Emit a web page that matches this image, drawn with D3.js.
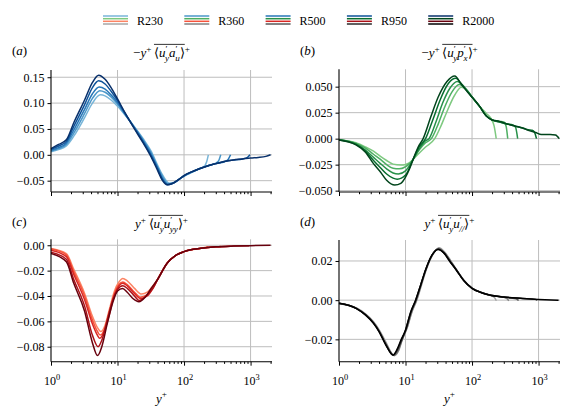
<!DOCTYPE html>
<html><head><meta charset="utf-8">
<script src="https://cdn.jsdelivr.net/npm/d3@7"></script>
<style>body{margin:0;background:#fff}</style>
</head><body><svg id="c" width="572" height="420"></svg>
<script>
// ---------------- DATA ----------------
const cases = ["R230", "R360", "R500", "R950", "R2000"];

// panel (a): -y+ <u'_y a'_u>+
const a_R230 = [[1,0.006],[1.3,0.010],[1.7,0.017],[2.2,0.036],[3.2,0.072],[4.2,0.100],[5.5,0.116],[6.5,0.114],[8,0.106],[10,0.094],[13,0.077],[17.8,0.055],[24,0.032],[32,0.007],[40,-0.020],[48,-0.040],[60,-0.055],[70,-0.054],[85,-0.047],[100,-0.041],[130,-0.034],[170,-0.027],[205,-0.021],[218,-0.014],[232,0.0]];
const a_R360 = [[1,0.0075],[1.3,0.012],[1.7,0.020],[2.2,0.042],[3.2,0.080],[4.2,0.109],[5.4,0.124],[6.5,0.121],[8,0.112],[10,0.098],[13,0.078],[17.8,0.054],[24,0.030],[32,0.004],[40,-0.023],[48,-0.043],[58,-0.056],[68,-0.055],[85,-0.047],[100,-0.041],[130,-0.034],[170,-0.027],[230,-0.021],[290,-0.017],[330,-0.012],[356,0.0]];
const a_R500 = [[1,0.009],[1.3,0.014],[1.7,0.023],[2.2,0.048],[3.2,0.088],[4.2,0.118],[5.3,0.131],[6.5,0.127],[8,0.116],[10,0.101],[13,0.079],[17.8,0.053],[24,0.028],[32,0.001],[40,-0.025],[47,-0.045],[58,-0.057],[67,-0.055],[85,-0.047],[100,-0.041],[130,-0.033],[170,-0.027],[230,-0.021],[300,-0.017],[400,-0.014],[460,-0.009],[500,0.0]];
const a_R950 = [[1,0.0105],[1.3,0.017],[1.7,0.026],[2.2,0.055],[3.2,0.097],[4.2,0.130],[5.2,0.143],[6.5,0.137],[8,0.123],[10,0.105],[13,0.080],[17.8,0.052],[24,0.026],[32,-0.002],[40,-0.027],[47,-0.047],[57,-0.058],[66,-0.056],[85,-0.047],[100,-0.040],[130,-0.033],[170,-0.027],[230,-0.021],[300,-0.017],[400,-0.013],[550,-0.010],[750,-0.008],[900,-0.005],[980,0.0]];
const a_R2000 = [[1,0.012],[1.3,0.020],[1.7,0.029],[2.2,0.062],[3.2,0.106],[4.2,0.140],[5.2,0.154],[6.5,0.146],[8,0.130],[10,0.108],[13,0.081],[17.8,0.051],[24,0.024],[32,-0.004],[40,-0.030],[47,-0.049],[56,-0.058],[65,-0.056],[85,-0.047],[100,-0.040],[130,-0.033],[170,-0.027],[230,-0.021],[300,-0.017],[400,-0.013],[550,-0.010],[750,-0.008],[1000,-0.006],[1300,-0.005],[1700,-0.003],[2000,0.0]];

// panel (b): -y+ <u'_y p'_x>+
const b_R230 = [[1,-0.001],[1.8,-0.004],[2.5,-0.008],[3.3,-0.012],[4.2,-0.017],[5.2,-0.021],[6.5,-0.0245],[8.5,-0.0253],[10,-0.0248],[11.5,-0.023],[13,-0.020],[16,-0.014],[20,-0.008],[27.5,0.0],[34,0.012],[41,0.0245],[55,0.042],[69,0.0494],[85,0.046],[103,0.039],[130,0.031],[163,0.0244],[195,0.019],[215,0.012],[231,0.0]];
const b_R360 = [[1,-0.001],[1.8,-0.0045],[2.5,-0.009],[3.3,-0.015],[4.2,-0.020],[5.2,-0.025],[6.5,-0.0285],[8,-0.029],[10,-0.027],[11.5,-0.024],[13,-0.020],[16,-0.011],[20,-0.004],[24.5,0.0],[31,0.014],[38,0.029],[50,0.045],[64,0.052],[80,0.048],[103,0.039],[130,0.031],[163,0.022],[200,0.018],[260,0.0166],[300,0.016],[325,0.012],[344,0.0]];
const b_R500 = [[1,-0.001],[1.8,-0.005],[2.5,-0.011],[3.3,-0.018],[4.2,-0.024],[5.2,-0.029],[6.5,-0.033],[7.8,-0.034],[10,-0.031],[11.5,-0.026],[13,-0.020],[16,-0.010],[20,-0.002],[22.5,0.0],[29,0.017],[36,0.034],[47,0.049],[60,0.055],[76,0.050],[103,0.039],[130,0.031],[163,0.022],[200,0.018],[260,0.016],[340,0.014],[405,0.0135],[450,0.011],[485,0.0]];
const b_R950 = [[1,-0.0012],[1.8,-0.0055],[2.5,-0.012],[3.3,-0.021],[4.2,-0.028],[5.2,-0.034],[6.5,-0.038],[7.5,-0.039],[10,-0.035],[11.5,-0.028],[13,-0.020],[16,-0.008],[20,0.0],[26,0.019],[33,0.037],[44,0.053],[57,0.058],[72,0.051],[103,0.039],[130,0.031],[163,0.022],[200,0.018],[260,0.016],[340,0.014],[450,0.012],[575,0.0103],[700,0.0085],[800,0.008],[870,0.006],[930,0.0]];
const b_R2000 = [[1,-0.0013],[1.8,-0.006],[2.5,-0.013],[3.3,-0.024],[4.2,-0.032],[5.2,-0.040],[6.9,-0.0446],[8.5,-0.043],[10,-0.037],[11.5,-0.029],[13,-0.020],[15.5,-0.008],[18.4,0.0],[24,0.021],[31,0.040],[42,0.055],[55,0.0602],[68,0.053],[85,0.045],[103,0.039],[130,0.031],[163,0.022],[200,0.018],[260,0.0166],[340,0.014],[450,0.012],[575,0.0103],[700,0.008],[900,0.006],[1100,0.004],[1500,0.004],[1800,0.0035],[2045,0.0]];

// panel (c): y+ <u'_y u'_yy>+
const c_R230 = [[1,-0.0025],[1.7,-0.0065],[2.2,-0.019],[3.2,-0.038],[4.2,-0.056],[5.0,-0.065],[5.6,-0.068],[6.5,-0.063],[7.5,-0.051],[9,-0.036],[10.5,-0.029],[12,-0.0262],[14,-0.028],[18,-0.034],[23,-0.0385],[28,-0.037],[34,-0.032],[40,-0.027],[56,-0.014],[75,-0.008],[100,-0.005],[180,-0.0024],[230,-0.0012]];
const c_R360 = [[1,-0.003],[1.7,-0.0075],[2.2,-0.021],[3.2,-0.040],[4.2,-0.059],[5.0,-0.068],[5.5,-0.0708],[6.5,-0.065],[7.5,-0.053],[9,-0.038],[10.5,-0.031],[12,-0.029],[14,-0.031],[18,-0.037],[22,-0.041],[28,-0.039],[34,-0.033],[40,-0.027],[56,-0.014],[75,-0.008],[100,-0.005],[180,-0.0024],[300,-0.0013],[360,-0.0009]];
const c_R500 = [[1,-0.004],[1.7,-0.009],[2.2,-0.023],[3.2,-0.043],[4.2,-0.062],[5.0,-0.071],[5.4,-0.0734],[6.5,-0.066],[7.5,-0.055],[9,-0.039],[10.5,-0.032],[12,-0.030],[14,-0.032],[18,-0.038],[22,-0.042],[28,-0.040],[34,-0.034],[40,-0.027],[56,-0.014],[75,-0.008],[100,-0.005],[180,-0.0024],[300,-0.0012],[500,-0.0007]];
const c_R950 = [[1,-0.0055],[1.7,-0.011],[2.2,-0.027],[3.2,-0.048],[4.2,-0.071],[5.1,-0.080],[5.8,-0.075],[7,-0.059],[8.5,-0.043],[10,-0.035],[12,-0.032],[14,-0.034],[18,-0.040],[21,-0.0435],[27,-0.040],[34,-0.034],[40,-0.027],[56,-0.014],[75,-0.008],[100,-0.005],[180,-0.0024],[300,-0.0012],[560,-0.0006],[950,-0.0003]];
const c_R2000 = [[1,-0.0065],[1.7,-0.013],[2.2,-0.030],[3.2,-0.052],[4.2,-0.077],[5.0,-0.087],[5.8,-0.080],[7,-0.062],[8.5,-0.045],[10,-0.036],[11.9,-0.034],[14,-0.037],[17,-0.042],[21,-0.0445],[26,-0.041],[32,-0.034],[40,-0.027],[56,-0.014],[75,-0.008],[100,-0.005],[180,-0.0024],[300,-0.0012],[560,-0.0006],[1000,-0.0003],[2000,0.0]];

// panel (d): y+ <u'_y u'_//>+
const d_R230 = [[1,-0.0018],[1.84,-0.004],[2.5,-0.007],[3.3,-0.011],[4,-0.015],[5,-0.021],[6.8,-0.0283],[7.8,-0.026],[9,-0.020],[10.5,-0.0145],[12.5,-0.006],[14.8,0.0],[17.5,0.008],[20.5,0.0155],[26,0.0235],[32,0.0268],[39,0.0245],[47,0.0205],[58,0.0157],[75,0.0103],[100,0.0062],[140,0.0039],[183,0.0026],[215,0.0015],[232,-0.0003]];
const d_R360 = [[1,-0.0017],[1.84,-0.0042],[2.5,-0.0072],[3.3,-0.0113],[4,-0.0155],[5,-0.0217],[6.7,-0.0282],[7.7,-0.0262],[9,-0.0195],[10.5,-0.0142],[12.4,-0.006],[14.6,0.0],[17.3,0.008],[20.3,0.0155],[25.5,0.0233],[31.5,0.0265],[38.5,0.0243],[47,0.0203],[58,0.0156],[75,0.0102],[100,0.0061],[140,0.0038],[183,0.0026],[300,0.0015],[340,0.0006],[356,-0.0003]];
const d_R500 = [[1,-0.0016],[1.84,-0.0043],[2.5,-0.0074],[3.3,-0.0116],[4,-0.0158],[5,-0.0221],[6.6,-0.0281],[7.6,-0.0258],[8.8,-0.0205],[10.2,-0.015],[12.2,-0.006],[14.4,0.0],[17.1,0.008],[20.1,0.0154],[25.2,0.0231],[31.2,0.0262],[38,0.0241],[46,0.0202],[58,0.0155],[75,0.0101],[100,0.0061],[140,0.0038],[183,0.0026],[300,0.0015],[460,0.0007],[500,-0.0002]];
const d_R950 = [[1,-0.0016],[1.84,-0.0043],[2.5,-0.0075],[3.3,-0.0117],[4,-0.0159],[5,-0.0223],[6.5,-0.028],[7.5,-0.0252],[8.6,-0.0208],[10,-0.0152],[12,-0.006],[14.2,0.0],[17,0.008],[20,0.0154],[25,0.023],[31,0.026],[38,0.024],[46,0.020],[58,0.0154],[75,0.010],[100,0.006],[140,0.0038],[183,0.0026],[300,0.0016],[580,0.0009],[900,0.0004],[950,0.0]];
const d_R2000 = [[1,-0.0016],[1.84,-0.0043],[2.5,-0.0075],[3.3,-0.0118],[4,-0.016],[5,-0.0225],[6.5,-0.028],[7.5,-0.025],[8.5,-0.0205],[10,-0.0153],[12,-0.006],[14.2,0.0],[17,0.008],[20,0.0154],[25,0.023],[30.9,0.0259],[38,0.024],[46,0.020],[58,0.0154],[75,0.010],[100,0.0060],[140,0.0038],[183,0.0026],[300,0.0016],[580,0.0009],[1000,0.0004],[2000,-0.0001]];

// axis ticks
const xMajorTicks = [1, 10, 100, 1000];
const xTickExponents = ["0", "1", "2", "3"];
const yTicksA = [-0.05, 0.00, 0.05, 0.10, 0.15];
const yTicksB = [-0.050, -0.025, 0.000, 0.025, 0.050];
const yTicksC = [-0.08, -0.06, -0.04, -0.02, 0.00];
const yTicksD = [-0.02, 0.00, 0.02];

// ---------------- DRAW ----------------
const svg = d3.select("#c");
const FONT = "'Liberation Serif','Times New Roman',serif";

function mathText(g, x, y, segs, fs, anchor) {
  const t = g.append("text").attr("x", x).attr("y", y)
    .attr("text-anchor", anchor || "middle")
    .style("font-family", FONT).style("font-size", fs + "px").attr("fill", "#000");
  let cur = 0, idx = 0; const ov = [null, null];
  segs.forEach(s => {
    const txt = s[0], st = s[1] || "n", opt = s[2] || {};
    let off = 0, size = fs, ital = false;
    if (st === "i") ital = true;
    if (st === "sup") { off = -0.42 * fs; size = 0.7 * fs; }
    if (st === "sub" || st === "subi") { off = 0.28 * fs; size = 0.7 * fs; ital = st === "subi"; }
    const ts = t.append("tspan").text(txt).attr("dy", off - cur)
      .style("font-size", size + "px").style("font-style", ital ? "italic" : "normal");
    if (opt.dx) ts.attr("dx", opt.dx);
    if (opt.ovS) ov[0] = idx;
    if (opt.ovE) ov[1] = idx;
    cur = off; idx += txt.length;
  });
  if (ov[0] !== null) {
    const n = t.node();
    const xs = n.getStartPositionOfChar(ov[0]).x, xe = n.getEndPositionOfChar(ov[1]).x;
    g.append("line").attr("x1", xs).attr("x2", xe)
      .attr("y1", y - fs * 0.97).attr("y2", y - fs * 0.97)
      .attr("stroke", "#000").attr("stroke-width", 0.8);
  }
  return t;
}

const shadesCol = [0.47, 0.6, 0.73, 0.87, 1.0];
const shadesRed = [0.42, 0.56, 0.7, 0.85, 1.0];
const shadesGrey = [0.45, 0.58, 0.72, 0.86, 1.0];

const panels = [
  { lab: "a", x0: 51, x1: 272, y0: 70, y1: 192, dom: [-0.0719, 0.164], ticks: yTicksA, fmt: ".2f",
    data: [a_R230, a_R360, a_R500, a_R950, a_R2000], cmap: d3.interpolateBlues, sh: shadesCol, xlab: false, ty: 57,
    title: [["−"], ["y", "i"], ["+", "sup"], ["\u2009"], ["⟨", "n", { ovS: 1 }], ["u", "i"], ["′", "sup"], ["y", "subi", { dx: -2.4 }], ["a", "i"], ["′", "sup"], ["u", "subi", { dx: -2.4 }], ["⟩", "n", { ovE: 1 }], ["+", "sup"]] },
  { lab: "b", x0: 339, x1: 560, y0: 69.3, y1: 192, dom: [-0.0513, 0.0667], ticks: yTicksB, fmt: ".3f",
    data: [b_R230, b_R360, b_R500, b_R950, b_R2000], cmap: d3.interpolateGreens, sh: shadesCol, xlab: false, ty: 57,
    title: [["−"], ["y", "i"], ["+", "sup"], ["\u2009"], ["⟨", "n", { ovS: 1 }], ["u", "i"], ["′", "sup"], ["y", "subi", { dx: -2.4 }], ["p", "i"], ["′", "sup"], ["x", "subi", { dx: -2.4 }], ["⟩", "n", { ovE: 1 }], ["+", "sup"]] },
  { lab: "c", x0: 51, x1: 272, y0: 239.3, y1: 361.7, dom: [-0.0918, 0.0047], ticks: yTicksC, fmt: ".2f",
    data: [c_R230, c_R360, c_R500, c_R950, c_R2000], cmap: d3.interpolateReds, sh: shadesRed, xlab: true, ty: 228,
    title: [["y", "i"], ["+", "sup"], ["\u2009"], ["⟨", "n", { ovS: 1 }], ["u", "i"], ["′", "sup"], ["y", "subi", { dx: -2.4 }], ["u", "i"], ["′", "sup"], ["yy", "subi", { dx: -2.4 }], ["⟩", "n", { ovE: 1 }], ["+", "sup"]] },
  { lab: "d", x0: 339, x1: 560, y0: 240, y1: 361.7, dom: [-0.0314, 0.0307], ticks: yTicksD, fmt: ".2f",
    data: [d_R230, d_R360, d_R500, d_R950, d_R2000], cmap: d3.interpolateGreys, sh: shadesGrey, xlab: true, ty: 228,
    title: [["y", "i"], ["+", "sup"], ["\u2009"], ["⟨", "n", { ovS: 1 }], ["u", "i"], ["′", "sup"], ["y", "subi", { dx: -2.4 }], ["u", "i"], ["′", "sup"], ["//", "subi", { dx: -2.4 }], ["⟩", "n", { ovE: 1 }], ["+", "sup"]] }
];

const minorTicks = [];
for (let e = 0; e < 4; e++) for (let m = 2; m <= 9; m++) { const v = m * Math.pow(10, e); if (v <= 2100) minorTicks.push(v); }

panels.forEach(p => {
  const g = svg.append("g");
  const x = d3.scaleLog().domain([1, 2100]).range([p.x0, p.x1]);
  const y = d3.scaleLinear().domain(p.dom).range([p.y1, p.y0]);
  const fmt = v => d3.format(p.fmt)(v).replace("-", "−");

  // grid
  g.append("g").selectAll("line").data(p.ticks).join("line")
    .attr("x1", p.x0).attr("x2", p.x1).attr("y1", d => y(d)).attr("y2", d => y(d))
    .attr("stroke", "#bdbdbd").attr("stroke-width", 1);
  g.append("g").selectAll("line").data(xMajorTicks.slice(1)).join("line")
    .attr("x1", d => x(d)).attr("x2", d => x(d)).attr("y1", p.y0).attr("y2", p.y1)
    .attr("stroke", "#bdbdbd").attr("stroke-width", 1);

  // lines
  const line = d3.line().x(d => x(d[0])).y(d => y(d[1])).curve(d3.curveMonotoneX);
  p.data.forEach((ser, i) => {
    g.append("path").datum(ser).attr("d", line).attr("fill", "none")
      .attr("stroke", p.cmap(p.sh[i])).attr("stroke-width", 1.5).attr("stroke-linejoin", "round");
  });

  // y axis
  const ya = d3.axisLeft(y).tickValues(p.ticks).tickSize(3.5).tickPadding(3).tickFormat(fmt);
  const yg = g.append("g").attr("transform", `translate(${p.x0},0)`).call(ya);
  yg.select(".domain").attr("d", `M0,${p.y0}V${p.y1}`).attr("stroke", "#000").attr("stroke-width", 1.1);
  yg.selectAll("text").style("font-family", FONT).style("font-size", "12px").attr("fill", "#000");

  // x axis
  const xa = d3.axisBottom(x).tickValues(xMajorTicks).tickSize(4).tickFormat("");
  const xg = g.append("g").attr("transform", `translate(0,${p.y1})`).call(xa);
  xg.select(".domain").attr("d", `M${p.x0},0H${p.x1}`).attr("stroke", "#000").attr("stroke-width", 1.1);
  const xm = d3.axisBottom(x).tickValues(minorTicks).tickSize(2.2).tickFormat("");
  const xmg = g.append("g").attr("transform", `translate(0,${p.y1})`).call(xm);
  xmg.select(".domain").remove();
  if (p.xlab) {
    xMajorTicks.forEach((t, i) => {
      mathText(g, x(t) + 1, p.y1 + 23.5, [["10"], [xTickExponents[i], "sup"]], 12, "middle");
    });
    mathText(g, (p.x0 + p.x1) / 2, p.y1 + 41, [["y", "i"], ["+", "sup"]], 13, "middle");
  }

  // titles
  mathText(g, (p.x0 + p.x1) / 2, p.ty, p.title, 13, "middle");
  mathText(g, p.x0 - 39, p.ty - 2, [["("], [p.lab, "i"], [")"]], 13, "start");
});

// legend
const legColors = [d3.interpolateBlues, d3.interpolateGreens, d3.interpolateReds, d3.interpolateGreys];
const legShades = [shadesCol, shadesCol, shadesRed, shadesGrey];
const legY = [16, 18.7, 21.3, 24];
cases.forEach((c, i) => {
  const lx = 103 + i * 81.3;
  legColors.forEach((cm, j) => {
    svg.append("line").attr("x1", lx).attr("x2", lx + 25).attr("y1", legY[j]).attr("y2", legY[j])
      .attr("stroke", cm(legShades[j][i])).attr("stroke-width", 1.5);
  });
  svg.append("text").attr("x", lx + 34).attr("y", 24.5).text(c)
    .style("font-family", FONT).style("font-size", "12px").attr("fill", "#000");
});
</script></body></html>
